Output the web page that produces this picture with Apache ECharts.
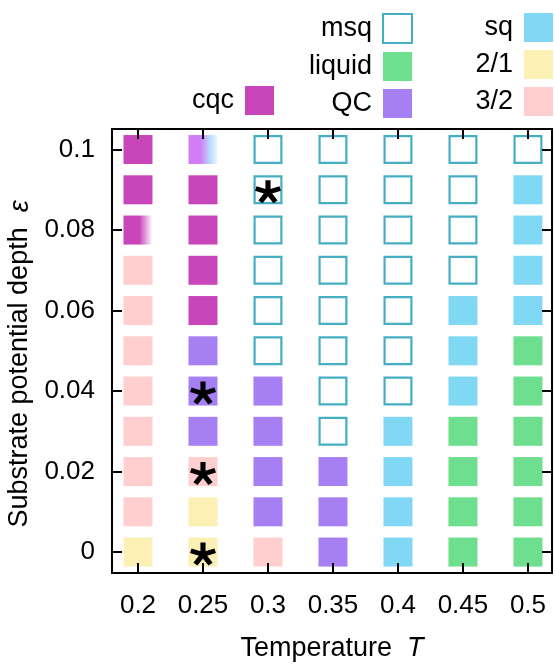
<!DOCTYPE html>
<html>
<head>
<meta charset="utf-8">
<script src="https://cdn.jsdelivr.net/npm/echarts@6/dist/echarts.min.js"></script>
<style>html,body{margin:0;padding:0;background:#fff}#c{width:555px;height:664px}</style>
</head>
<body>
<div id="c"></div>
<script>
// Temperatures (columns) and substrate depths (rows)
const temperatures = [0.2, 0.25, 0.3, 0.35, 0.4, 0.45, 0.5];
const depths = [0.1, 0.09, 0.08, 0.07, 0.06, 0.05, 0.04, 0.03, 0.02, 0.01, 0];
const xTicks = [0.2, 0.25, 0.3, 0.35, 0.4, 0.45, 0.5];
const yTicks = [0, 0.02, 0.04, 0.06, 0.08, 0.1];
// Phase at each (depth row, temperature column); "mixA"/"mixB" are gradient (coexisting) cells
const phaseRows = [
  ['cqc', 'mixA', 'msq', 'msq', 'msq', 'msq', 'msq'],
  ['cqc', 'cqc', 'msq', 'msq', 'msq', 'msq', 'sq'],
  ['mixB', 'cqc', 'msq', 'msq', 'msq', 'msq', 'sq'],
  ['3/2', 'cqc', 'msq', 'msq', 'msq', 'msq', 'sq'],
  ['3/2', 'cqc', 'msq', 'msq', 'msq', 'sq', 'sq'],
  ['3/2', 'QC', 'msq', 'msq', 'msq', 'sq', 'liquid'],
  ['3/2', 'QC', 'QC', 'msq', 'msq', 'sq', 'liquid'],
  ['3/2', 'QC', 'QC', 'msq', 'sq', 'liquid', 'liquid'],
  ['3/2', '3/2', 'QC', 'QC', 'sq', 'liquid', 'liquid'],
  ['3/2', '2/1', 'QC', 'QC', 'sq', 'liquid', 'liquid'],
  ['2/1', '2/1', '3/2', 'QC', 'sq', 'liquid', 'liquid']
];
// Cells marked with an asterisk [T, epsilon]
const starCells = [[0.3, 0.09], [0.25, 0.04], [0.25, 0.02], [0.25, 0]];
const phaseNames = ['cqc', 'msq', 'liquid', 'QC', 'sq', '2/1', '3/2'];

const FONT = 'Liberation Sans, Arial, Helvetica, sans-serif';
const phaseStyle = {
  'cqc':    {color: '#c846b9'},
  'msq':    {color: '#ffffff', borderColor: '#46aec2', borderWidth: 2.2},
  'liquid': {color: '#6ddf8e'},
  'QC':     {color: '#a67ff3'},
  'sq':     {color: '#80d8f5'},
  '2/1':    {color: '#fdf0b5'},
  '3/2':    {color: '#ffcfcf'}
};
const mixStyle = {
  'mixA': {color: {type: 'linear', x: 0, y: 0, x2: 1, y2: 0, colorStops: [
    {offset: 0, color: '#d47cf6'}, {offset: 0.42, color: '#d07ff6'},
    {offset: 0.75, color: '#b9dcff'}, {offset: 1, color: '#eef8ff'}]}},
  'mixB': {color: {type: 'linear', x: 0, y: 0, x2: 1, y2: 0, colorStops: [
    {offset: 0, color: '#c846b9'}, {offset: 0.55, color: '#c846b9'},
    {offset: 1, color: '#ffffff'}]}}
};

function cellsOf(phase) {
  const out = [];
  phaseRows.forEach((row, i) => row.forEach((p, j) => {
    if (p === phase) out.push([temperatures[j], depths[i]]);
  }));
  return out;
}

function asteriskPath() {
  let s = '';
  const w = 0.2, L = 1;
  for (let k = 0; k < 5; k++) {
    const t = k * 72 * Math.PI / 180;
    const dx = Math.sin(t), dy = -Math.cos(t);
    const px = Math.cos(t), py = Math.sin(t);
    const pts = [
      [px * w, py * w], [px * w + dx * L, py * w + dy * L],
      [-px * w + dx * L, -py * w + dy * L], [-px * w, -py * w]
    ];
    s += 'M' + pts.map(q => (q[0] * 10).toFixed(3) + ' ' + (q[1] * 10).toFixed(3)).join(' L') + ' Z ';
  }
  return 'path://' + s;
}

const CELL = 29;
const series = phaseNames.map(p => {
  const st = phaseStyle[p];
  const bw = st.borderWidth || 0;
  return {
    name: p, type: 'scatter', symbol: 'rect',
    symbolSize: CELL - bw,
    data: cellsOf(p),
    itemStyle: Object.assign({opacity: 1}, st),
    emphasis: {disabled: true}, z: 2
  };
});
Object.keys(mixStyle).forEach(k => {
  series.push({
    name: k, type: 'scatter', symbol: 'rect', symbolSize: CELL,
    data: cellsOf(k), itemStyle: Object.assign({opacity: 1}, mixStyle[k]),
    emphasis: {disabled: true}, z: 2
  });
});
series.push({
  name: 'star', type: 'scatter', symbol: asteriskPath(), symbolSize: [26, 23],
  symbolOffset: [0, 2],
  data: starCells, itemStyle: {color: '#000', opacity: 1}, emphasis: {disabled: true}, z: 4
});

const legendCommon = {
  orient: 'vertical', align: 'right', itemWidth: CELL, itemHeight: CELL, itemGap: 8,
  selectedMode: false, padding: 0,
  textStyle: {fontSize: 27, color: '#000', fontFamily: FONT, padding: [0, 6, 0, 0]}
};

const axisCommon = {
  axisLine: {show: true, onZero: false, lineStyle: {color: '#000', width: 2}},
  axisTick: {show: true, inside: true, length: 10, lineStyle: {color: '#000', width: 2}},
  splitLine: {show: false}, z: 3
};

const chart = echarts.init(document.getElementById('c'), null, {renderer: 'canvas'});
chart.setOption({
  backgroundColor: '#fff',
  animation: false,
  textStyle: {fontFamily: FONT},
  grid: {left: 112, right: 3, top: 129, bottom: 91, containLabel: false, outerBoundsMode: 'none'},
  legend: [
    Object.assign({}, legendCommon, {data: ['cqc'], right: 281, top: 86}),
    Object.assign({}, legendCommon, {data: ['msq', 'liquid', 'QC'], right: 142, top: 13}),
    Object.assign({}, legendCommon, {data: ['sq', '2/1', '3/2'], right: 2, top: 13})
  ],
  xAxis: [
    Object.assign({}, axisCommon, {
      type: 'value', min: 0.18, max: 0.5185, position: 'bottom',
      name: 'Temperature  {i|T}', nameLocation: 'middle', nameGap: 62,
      nameTextStyle: {fontSize: 27, color: '#000', fontFamily: FONT,
        rich: {i: {fontStyle: 'italic', fontSize: 27, fontFamily: FONT}}},
      axisTick: Object.assign({}, axisCommon.axisTick, {customValues: xTicks}),
      axisLabel: {customValues: xTicks, margin: 20, fontSize: 26, color: '#000', fontFamily: FONT,
        formatter: v => String(v)}
    }),
    Object.assign({}, axisCommon, {
      type: 'value', min: 0.18, max: 0.5185, position: 'top',
      axisTick: Object.assign({}, axisCommon.axisTick, {customValues: xTicks}),
      axisLabel: {show: false}
    })
  ],
  yAxis: [
    Object.assign({}, axisCommon, {
      type: 'value', min: -0.0052, max: 0.1051, position: 'left',
      name: 'Substrate potential depth  {i|ε}', nameLocation: 'middle', nameGap: 78,
      nameTextStyle: {fontSize: 27, color: '#000', fontFamily: FONT, padding: [0, 26, 0, 0],
        rich: {i: {fontStyle: 'italic', fontSize: 27, fontFamily: FONT}}},
      axisTick: Object.assign({}, axisCommon.axisTick, {customValues: yTicks}),
      axisLabel: {customValues: yTicks, margin: 17, fontSize: 26, color: '#000', fontFamily: FONT,
        formatter: v => String(v)}
    }),
    Object.assign({}, axisCommon, {
      type: 'value', min: -0.0052, max: 0.1051, position: 'right',
      axisTick: Object.assign({}, axisCommon.axisTick, {customValues: yTicks}),
      axisLabel: {show: false}
    })
  ],
  series: series
});
</script>
</body>
</html>
